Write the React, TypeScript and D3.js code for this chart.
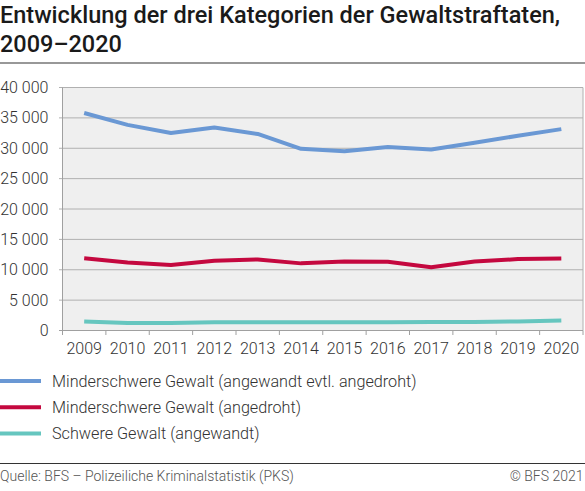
import React from "react";
import * as d3 from "d3";

const years = ["2009","2010","2011","2012","2013","2014","2015","2016","2017","2018","2019","2020"];
const seriesNames = [
  "Minderschwere Gewalt (angewandt evtl. angedroht)",
  "Minderschwere Gewalt (angedroht)",
  "Schwere Gewalt (angewandt)",
];
const seriesColors = ["#6a98d4", "#c4083f", "#66c6bf"];
const minderAngewandt = [35800, 33850, 32500, 33400, 32350, 29900, 29500, 30200, 29800, 30900, 32050, 33150];
const minderAngedroht = [11900, 11200, 10800, 11500, 11700, 11050, 11350, 11300, 10400, 11350, 11750, 11850];
const schwere = [1480, 1220, 1220, 1350, 1350, 1350, 1350, 1350, 1400, 1400, 1500, 1650];
const yTicks = [0, 5000, 10000, 15000, 20000, 25000, 30000, 35000, 40000];
const titleLines = ["Entwicklung der drei Kategorien der Gewaltstraftaten,", "2009–2020"];
const sourceText = "Quelle: BFS – Polizeiliche Kriminalstatistik (PKS)";
const copyrightText = "© BFS 2021";

const W = 585, H = 491;
const font = "Roboto, 'Noto Sans', sans-serif";

export default function App() {
  const allSeries = [minderAngewandt, minderAngedroht, schwere];
  const x = d3.scaleBand<string>().domain(years).range([62.5, 583]).padding(0);
  const y = d3.scaleLinear().domain([0, 40000]).range([330.5, 87.5]);
  const line = d3.line<number>()
    .x((_, i) => (x(years[i]) as number) + x.bandwidth() / 2)
    .y((d) => y(d));
  const fmt = (v: number) => d3.format(",")(v).replace(/,/g, " ");

  return (
    <svg width={W} height={H} style={{ position: "absolute", left: 0, top: 0, fontFamily: font }}>
      <rect x={0} y={0} width={W} height={H} fill="#fff" />
      {titleLines.map((t, i) => (
        <text key={i} x={0} y={22.5 + i * 29.5} fontSize={23.5} fontWeight={500} fill="#1a1a1a">{t}</text>
      ))}
      <line x1={0} x2={W} y1={63} y2={63} stroke="#333" strokeWidth={1.2} />

      <rect x={62.5} y={87.5} width={583 - 62.5} height={330.5 - 87.5} fill="#efefef" />
      {yTicks.map((t) => (
        <g key={t}>
          <line x1={59} x2={583} y1={y(t)} y2={y(t)} stroke="#b0b0b0" strokeWidth={1} />
          <text x={48.5} y={y(t) + 5.5} fontSize={16} textAnchor="end" fill="#333" fontWeight={300}>{fmt(t)}</text>
        </g>
      ))}
      <line x1={62.5} x2={62.5} y1={87.5} y2={330.5} stroke="#a0a0a0" />
      <line x1={583} x2={583} y1={87.5} y2={330.5} stroke="#b0b0b0" />
      <line x1={59} x2={583} y1={330.5} y2={330.5} stroke="#a0a0a0" />
      {years.map((yr, i) => (
        <g key={yr}>
          <line x1={(x(yr) as number)} x2={(x(yr) as number)} y1={330.5} y2={335} stroke="#a0a0a0" />
          {i === years.length - 1 && (
            <line x1={583} x2={583} y1={330.5} y2={335} stroke="#a0a0a0" />
          )}
          <text x={(x(yr) as number) + x.bandwidth() / 2} y={354} fontSize={16} textAnchor="middle" fill="#333" fontWeight={300}>{yr}</text>
        </g>
      ))}
      {allSeries.map((s, i) => (
        <path key={i} d={line(s) || ""} fill="none" stroke={seriesColors[i]} strokeWidth={4} strokeLinejoin="round" />
      ))}

      {seriesNames.map((n, i) => (
        <g key={n}>
          <line x1={0} x2={41} y1={381 + i * 26.2} y2={381 + i * 26.2} stroke={seriesColors[i]} strokeWidth={4} />
          <text x={52} y={386.8 + i * 26.2} fontSize={16.2} fill="#333" fontWeight={300}>{n}</text>
        </g>
      ))}

      <line x1={0} x2={W} y1={463.5} y2={463.5} stroke="#333" strokeWidth={1} />
      <text x={0} y={481} fontSize={14} fill="#555" fontWeight={300}>{sourceText}</text>
      <text x={583.5} y={481} fontSize={14} fill="#555" textAnchor="end" fontWeight={300}>{copyrightText}</text>
    </svg>
  );
}
